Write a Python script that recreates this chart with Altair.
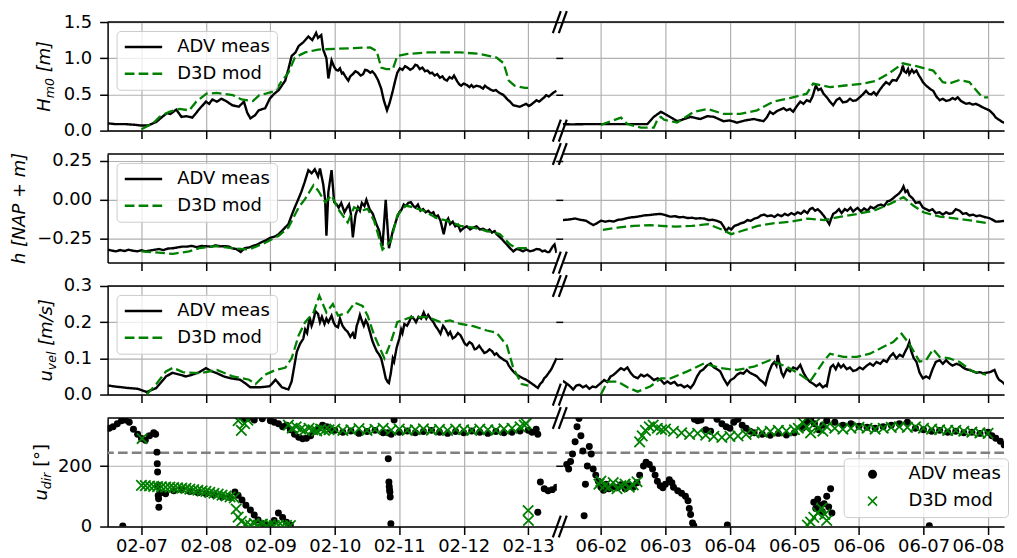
import altair as alt
import pandas as pd
from datetime import datetime, timedelta

FONT = "DejaVu Sans"
SERIES = ["ADV meas", "D3D mod"]
COLORS = ["#000000", "#008000"]
DASHES = [[1, 0], [9.7, 4.2]]
XPATH = ("M-0.88,-1.12L1.12,0.88L0.88,1.12L-1.12,-0.88Z "
         "M-1.12,0.88L0.88,-1.12L1.12,-0.88L-0.88,1.12Z")
SHAPES = ["circle", XPATH]

feb_tick_days = [7, 8, 9, 10, 11, 12, 13]
jun_tick_days = [2, 3, 4, 5, 6, 7, 8]
dir_threshold = [244]

# ---------------- data: (day of month, value) ----------------
hm0_adv_feb = [(6.48,0.10),(6.59,0.09),(6.74,0.09),(6.90,0.08),(7.00,0.07),(7.10,0.07),(7.23,0.12),(7.31,0.18),(7.39,0.24),(7.45,0.23),(7.54,0.29),(7.62,0.19),(7.70,0.20),(7.79,0.18),(7.90,0.30),(8.00,0.40),(8.05,0.37),(8.10,0.43),(8.17,0.40),(8.24,0.44),(8.31,0.41),(8.41,0.35),(8.51,0.33),(8.59,0.40),(8.64,0.25),(8.69,0.17),(8.76,0.21),(8.82,0.28),(8.92,0.31),(8.99,0.44),(9.05,0.50),(9.13,0.56),(9.23,0.69),(9.28,0.85),(9.33,1.03),(9.39,1.08),(9.44,1.17),(9.51,1.22),(9.59,1.30),(9.65,1.25),(9.71,1.35),(9.74,1.28),(9.79,1.32),(9.82,1.12),(9.87,1.00),(9.90,0.72),(9.95,0.97),
  (9.99,0.88),(10.02,0.84),(10.05,0.83),(10.08,0.86),(10.11,0.79),(10.13,0.80),(10.17,0.74),(10.21,0.69),(10.24,0.75),(10.28,0.78),(10.32,0.82),(10.36,0.80),(10.40,0.76),(10.44,0.78),(10.47,0.84),(10.51,0.83),(10.55,0.80),(10.58,0.82),(10.62,0.78),(10.67,0.70),(10.72,0.58),(10.76,0.42),(10.81,0.28),(10.85,0.38),(10.90,0.55),(10.94,0.70),(10.97,0.80),(11.01,0.86),(11.05,0.84),(11.09,0.89),(11.13,0.87),(11.17,0.84),(11.21,0.86),(11.25,0.91),(11.28,0.90),(11.32,0.85),(11.36,0.87),(11.40,0.82),(11.44,0.83),(11.48,0.79),(11.51,0.80),(11.55,0.76),(11.59,0.78),(11.63,0.73),(11.67,0.75),(11.70,0.71),(11.74,0.69),(11.78,0.74),(11.82,0.72),(11.85,0.76),(11.90,0.68),(11.93,0.64),(11.96,0.62),(12.00,0.65),(12.05,0.63),(12.09,0.60),(12.12,0.63),(12.15,0.60),(12.20,0.62),(12.25,0.61),(12.30,0.58),(12.33,0.62),(12.36,0.60),(12.41,0.57),(12.46,0.55),(12.50,0.56),(12.54,0.53),(12.58,0.51),(12.62,0.49),(12.65,0.46),(12.68,0.43),(12.72,0.40),(12.77,0.35),(12.82,0.34),(12.87,0.33),(12.92,0.35),(12.97,0.37),(13.01,0.34),(13.05,0.36),(13.09,0.39),(13.13,0.42),(13.17,0.40),(13.21,0.43),(13.25,0.46),(13.28,0.49),(13.32,0.47),(13.36,0.50),(13.40,0.53),(13.44,0.55)]
hm0_d3d_feb = [(7.00,0.02),(7.18,0.10),(7.28,0.19),(7.43,0.26),(7.59,0.30),(7.74,0.28),(7.85,0.40),(8.01,0.51),(8.17,0.52),(8.42,0.49),(8.55,0.43),(8.73,0.41),(8.83,0.49),(8.93,0.51),(9.08,0.55),(9.18,0.69),(9.28,0.80),(9.38,1.01),(9.54,1.08),(9.74,1.12),(10.00,1.13),(10.30,1.14),(10.55,1.15),(10.65,1.10),(10.72,0.87),(10.80,0.85),(10.90,0.85),(10.97,1.03),(11.13,1.06),(11.44,1.08),(11.95,1.08),(12.25,1.06),(12.51,1.01),(12.62,0.93),(12.70,0.69),(12.79,0.62),(12.95,0.59),(13.00,0.59)]
hm0_adv_jun = [(1.41,0.09),(1.54,0.086),(1.80,0.09),(2.10,0.09),(2.41,0.09),(2.72,0.09),(2.82,0.19),(2.93,0.26),(3.03,0.21),(3.11,0.17),(3.18,0.13),(3.29,0.16),(3.39,0.19),(3.54,0.16),(3.65,0.20),(3.75,0.19),(3.90,0.13),(4.00,0.14),(4.11,0.11),(4.23,0.14),(4.37,0.16),
  (4.52,0.13),(4.57,0.18),(4.62,0.26),(4.67,0.23),(4.73,0.27),(4.78,0.29),(4.83,0.31),(4.88,0.28),(4.93,0.30),(4.98,0.26),(5.03,0.33),(5.09,0.40),(5.14,0.37),(5.19,0.42),(5.24,0.40),(5.28,0.47),(5.33,0.62),(5.37,0.56),(5.41,0.58),(5.45,0.51),(5.51,0.45),(5.55,0.40),(5.60,0.35),(5.65,0.42),(5.70,0.45),(5.75,0.39),(5.81,0.40),(5.86,0.44),(5.91,0.41),(5.96,0.42),(6.01,0.46),(6.06,0.50),(6.11,0.55),(6.15,0.51),(6.19,0.50),(6.23,0.53),(6.27,0.49),(6.32,0.56),(6.37,0.62),(6.42,0.67),(6.47,0.64),(6.52,0.70),(6.58,0.69),(6.62,0.75),(6.65,0.80),(6.68,0.90),(6.70,0.82),(6.73,0.80),(6.76,0.85),(6.78,0.78),(6.82,0.84),(6.85,0.80),(6.89,0.83),(6.93,0.76),(6.96,0.72),(6.99,0.67),(7.03,0.63),(7.07,0.60),(7.11,0.57),(7.15,0.55),(7.20,0.47),(7.25,0.42),(7.30,0.44),(7.35,0.41),(7.40,0.42),(7.45,0.45),(7.49,0.43),(7.53,0.46),(7.58,0.41),(7.62,0.39),(7.66,0.37),(7.71,0.38),(7.76,0.36),(7.81,0.37),(7.86,0.35),(7.92,0.32),(7.97,0.30),(8.02,0.28),(8.08,0.23),(8.12,0.18),(8.17,0.15),(8.22,0.12),(8.28,0.10),(8.38,0.09)]
hm0_d3d_jun = [(2.00,0.08),(2.31,0.18),(2.41,0.09),(2.62,0.04),(2.82,0.04),(2.88,0.16),(2.93,0.19),(2.98,0.15),(3.18,0.11),(3.44,0.26),(3.65,0.30),(3.90,0.23),(4.16,0.23),(4.42,0.28),(4.67,0.40),(4.93,0.45),(5.19,0.51),(5.29,0.65),(5.55,0.60),(5.75,0.62),(6.07,0.65),(6.27,0.69),(6.48,0.80),(6.68,0.93),(6.89,0.89),(7.15,0.83),(7.30,0.67),(7.40,0.65),(7.56,0.70),(7.71,0.67),(7.91,0.46),(8.00,0.46)]

h_adv_feb = [(6.48,-0.32),(6.54,-0.325),(6.60,-0.33),(6.67,-0.322),(6.74,-0.328),(6.80,-0.32),(6.87,-0.326),(6.94,-0.33),(7.00,-0.323),(7.07,-0.33),(7.13,-0.325),(7.20,-0.32),(7.27,-0.315),(7.34,-0.322),(7.41,-0.312),(7.49,-0.31),(7.56,-0.305),(7.63,-0.30),(7.70,-0.30),(7.78,-0.295),(7.85,-0.303),(7.93,-0.296),(8.00,-0.297),(8.08,-0.30),(8.15,-0.292),(8.23,-0.298),(8.30,-0.297),(8.36,-0.30),(8.40,-0.31),(8.47,-0.315),(8.54,-0.334),(8.60,-0.31),(8.67,-0.305),(8.73,-0.295),(8.80,-0.286),(8.87,-0.27),(8.93,-0.26),(9.00,-0.243),(9.07,-0.235),(9.13,-0.22),(9.20,-0.19),(9.28,-0.156),(9.33,-0.10),(9.38,-0.048),(9.43,0.0),(9.48,0.05),(9.53,0.11),(9.59,0.19),(9.64,0.17),(9.69,0.195),(9.74,0.15),(9.77,0.20),(9.82,0.10),(9.85,0.0),(9.87,-0.23),(9.90,0.05),(9.95,0.19),(9.99,-0.015),(10.03,-0.03),(10.06,-0.05),(10.10,-0.02),(10.15,-0.08),(10.19,-0.05),(10.22,-0.03),(10.25,-0.09),(10.28,-0.24),(10.32,-0.10),(10.36,-0.048),(10.39,-0.07),(10.42,-0.02),(10.46,-0.04),(10.49,0.0),(10.54,-0.06),(10.59,-0.09),(10.64,-0.15),(10.69,-0.20),(10.74,-0.297),(10.79,0.0),(10.84,-0.31),(10.90,-0.20),(10.97,-0.11),(11.00,-0.08),(11.04,-0.06),(11.07,-0.03),(11.10,-0.04),(11.14,-0.02),(11.18,-0.015),(11.22,-0.04),(11.25,-0.05),(11.29,-0.03),(11.33,-0.07),(11.37,-0.06),(11.41,-0.08),(11.45,-0.07),(11.49,-0.09),(11.53,-0.08),(11.56,-0.11),(11.60,-0.10),(11.64,-0.134),(11.69,-0.22),(11.73,-0.14),(11.76,-0.12),(11.79,-0.156),(11.83,-0.14),(11.87,-0.17),(11.91,-0.16),(11.95,-0.20),(12.00,-0.18),(12.05,-0.17),(12.10,-0.19),(12.15,-0.178),(12.20,-0.17),(12.25,-0.19),(12.30,-0.185),(12.36,-0.20),(12.40,-0.19),(12.44,-0.21),(12.48,-0.20),(12.51,-0.22),(12.55,-0.235),(12.59,-0.25),(12.63,-0.27),(12.67,-0.286),(12.72,-0.31),(12.77,-0.33),(12.82,-0.315),(12.87,-0.32),(12.92,-0.33),(12.97,-0.318),(13.03,-0.33),(13.08,-0.325),(13.13,-0.315),(13.18,-0.318),(13.22,-0.33),(13.26,-0.325),(13.30,-0.335),(13.33,-0.334),(13.38,-0.30),(13.41,-0.286),(13.44,-0.34)]
h_d3d_feb = [(7.00,-0.33),(7.49,-0.346),(7.74,-0.33),(7.90,-0.31),(8.15,-0.297),(8.41,-0.31),(8.67,-0.318),(8.92,-0.275),(9.13,-0.23),(9.28,-0.178),(9.44,-0.048),(9.54,0.006),(9.67,0.093),(9.74,0.06),(9.85,-0.015),(9.95,0.028),(10.05,-0.058),(10.20,-0.145),(10.30,-0.048),(10.41,-0.07),(10.51,-0.058),(10.61,-0.134),(10.74,-0.318),(10.87,-0.264),(10.97,-0.10),(11.10,-0.037),(11.23,-0.05),(11.38,-0.07),(11.59,-0.12),(11.74,-0.134),(11.95,-0.167),(12.15,-0.178),(12.36,-0.20),(12.56,-0.22),(12.72,-0.286),(12.82,-0.31),(13.00,-0.31)]
h_adv_jun = [(1.41,-0.13),(1.53,-0.125),(1.60,-0.12),(1.68,-0.128),(1.77,-0.134),(1.83,-0.15),(1.88,-0.162),(1.94,-0.15),(2.00,-0.134),(2.07,-0.14),(2.13,-0.135),(2.20,-0.139),(2.27,-0.128),(2.34,-0.125),(2.41,-0.117),(2.48,-0.112),(2.54,-0.11),(2.61,-0.105),(2.67,-0.10),(2.74,-0.098),(2.80,-0.095),(2.87,-0.092),(2.93,-0.09),(3.01,-0.10),(3.08,-0.108),(3.15,-0.105),(3.21,-0.112),(3.28,-0.11),(3.34,-0.117),(3.41,-0.115),(3.47,-0.12),(3.54,-0.118),(3.60,-0.12),(3.67,-0.13),(3.73,-0.128),(3.80,-0.135),(3.86,-0.145),(3.90,-0.17),(3.94,-0.20),(3.98,-0.18),(4.02,-0.19),(4.07,-0.167),(4.12,-0.16),(4.17,-0.15),(4.22,-0.145),(4.27,-0.13),(4.32,-0.135),(4.38,-0.12),(4.43,-0.115),(4.48,-0.10),(4.53,-0.095),(4.58,-0.105),(4.64,-0.10),(4.69,-0.11),(4.74,-0.095),(4.80,-0.105),(4.85,-0.09),(4.90,-0.10),(4.95,-0.085),(5.00,-0.095),(5.05,-0.08),(5.10,-0.09),(5.15,-0.07),(5.20,-0.085),(5.24,-0.06),(5.28,-0.052),(5.32,-0.07),(5.36,-0.06),(5.41,-0.08),(5.45,-0.10),(5.50,-0.13),(5.54,-0.156),(5.57,-0.12),(5.60,-0.09),(5.64,-0.08),(5.69,-0.06),(5.73,-0.085),(5.78,-0.06),(5.82,-0.07),(5.87,-0.05),(5.91,-0.075),(5.95,-0.06),(5.98,-0.052),(6.03,-0.075),(6.08,-0.055),(6.13,-0.07),(6.18,-0.045),(6.23,-0.055),(6.29,-0.037),(6.34,-0.03),(6.39,-0.04),(6.44,-0.01),(6.48,-0.005),(6.53,0.01),(6.58,0.028),(6.62,0.04),(6.66,0.06),(6.69,0.086),(6.72,0.05),(6.75,0.06),(6.78,0.028),(6.83,0.01),(6.88,-0.02),(6.94,-0.015),(6.99,-0.05),(7.04,-0.06),(7.09,-0.07),(7.14,-0.06),(7.19,-0.085),(7.25,-0.08),(7.30,-0.095),(7.35,-0.08),(7.40,-0.09),(7.45,-0.085),(7.50,-0.06),(7.56,-0.07),(7.61,-0.09),(7.66,-0.085),(7.71,-0.10),(7.77,-0.095),(7.82,-0.105),(7.87,-0.10),(7.94,-0.11),(8.02,-0.117),(8.08,-0.13),(8.12,-0.14),(8.17,-0.139),(8.25,-0.135),(8.38,-0.134)]
h_d3d_jun = [(2.03,-0.193),(2.26,-0.178),(2.51,-0.167),(2.77,-0.162),(2.93,-0.167),(3.15,-0.172),(3.41,-0.167),(3.66,-0.156),(3.87,-0.19),(4.02,-0.22),(4.18,-0.20),(4.43,-0.167),(4.69,-0.15),(4.95,-0.139),(5.21,-0.12),(5.46,-0.13),(5.72,-0.108),(5.98,-0.09),(6.23,-0.07),(6.48,-0.026),(6.69,0.017),(6.84,-0.037),(7.00,-0.08),(7.25,-0.108),(7.51,-0.12),(7.76,-0.134),(8.00,-0.15)]

u_adv_feb = [(6.48,0.025),(6.60,0.022),(6.80,0.018),(6.94,0.016),(7.08,0.007),(7.23,0.018),(7.38,0.05),(7.48,0.06),(7.59,0.055),(7.69,0.05),(7.79,0.055),(7.90,0.062),(8.00,0.073),(8.08,0.065),(8.17,0.059),(8.28,0.05),(8.38,0.045),(8.53,0.041),(8.62,0.03),(8.69,0.02),(8.84,0.02),(8.99,0.023),(9.08,0.041),(9.18,0.02),(9.28,0.014),(9.33,0.036),
  (9.41,0.118),(9.46,0.14),(9.51,0.154),(9.54,0.18),(9.57,0.17),(9.61,0.214),(9.64,0.19),(9.66,0.20),(9.70,0.23),(9.74,0.223),(9.77,0.20),(9.80,0.215),(9.84,0.195),(9.87,0.21),(9.90,0.20),(9.95,0.218),(9.98,0.20),(10.01,0.19),(10.05,0.186),(10.08,0.21),(10.12,0.19),(10.16,0.18),(10.20,0.173),(10.24,0.16),(10.28,0.17),(10.31,0.154),(10.34,0.19),(10.36,0.20),(10.39,0.22),(10.41,0.209),(10.45,0.19),(10.48,0.205),(10.51,0.195),(10.55,0.17),(10.58,0.15),(10.61,0.136),(10.65,0.12),(10.69,0.11),(10.72,0.10),(10.76,0.07),(10.79,0.045),(10.82,0.035),(10.84,0.032),(10.87,0.06),(10.90,0.10),(10.92,0.091),(10.96,0.13),(11.00,0.154),(11.03,0.18),(11.05,0.17),(11.08,0.195),(11.12,0.19),(11.15,0.20),(11.19,0.215),(11.23,0.209),(11.26,0.20),(11.30,0.215),(11.34,0.21),(11.38,0.227),(11.42,0.21),(11.45,0.22),(11.49,0.209),(11.53,0.20),(11.56,0.19),(11.60,0.18),(11.64,0.168),(11.68,0.19),(11.72,0.18),(11.76,0.165),(11.79,0.173),(11.83,0.155),(11.87,0.16),(11.91,0.17),(11.95,0.164),(11.99,0.15),(12.02,0.14),(12.05,0.136),(12.09,0.145),(12.13,0.14),(12.17,0.125),(12.20,0.127),(12.24,0.135),(12.28,0.125),(12.32,0.115),(12.36,0.118),(12.40,0.125),(12.44,0.12),(12.48,0.11),(12.51,0.114),(12.55,0.105),(12.59,0.10),(12.63,0.095),(12.67,0.091),(12.70,0.08),(12.74,0.07),(12.78,0.062),(12.82,0.055),(12.87,0.05),(12.92,0.045),(12.97,0.041),(13.02,0.035),(13.06,0.03),(13.10,0.025),(13.15,0.018),(13.19,0.03),(13.22,0.035),(13.25,0.045),(13.28,0.05),(13.32,0.06),(13.36,0.07),(13.40,0.085),(13.44,0.10)]
u_d3d_feb = [(7.08,0.0),(7.23,0.029),(7.38,0.064),(7.49,0.074),(7.64,0.062),(7.90,0.059),(8.17,0.068),(8.42,0.05),(8.67,0.041),(8.77,0.029),(8.92,0.055),(9.08,0.068),(9.23,0.074),(9.33,0.10),(9.44,0.164),(9.54,0.20),(9.67,0.227),(9.76,0.273),(9.87,0.227),(9.97,0.25),(10.05,0.218),(10.20,0.227),(10.31,0.254),(10.43,0.245),(10.51,0.218),(10.61,0.164),(10.77,0.10),(10.87,0.145),(10.97,0.20),(11.18,0.214),(11.44,0.214),(11.64,0.20),(11.79,0.205),(11.95,0.195),(12.15,0.189),(12.36,0.177),(12.51,0.171),(12.67,0.136),(12.77,0.073),(12.90,0.029),(13.00,0.025)]
u_adv_jun = [(1.41,0.038),(1.51,0.025),(1.57,0.014),(1.62,0.025),(1.67,0.027),(1.72,0.02),(1.77,0.025),(1.82,0.016),(1.87,0.022),(1.92,0.02),(2.00,0.032),(2.05,0.04),(2.10,0.035),(2.15,0.05),(2.20,0.055),(2.26,0.065),(2.31,0.073),(2.36,0.068),(2.41,0.075),(2.46,0.06),(2.51,0.05),(2.57,0.045),(2.62,0.055),(2.67,0.05),(2.72,0.055),(2.77,0.048),(2.82,0.04),(2.88,0.045),(2.93,0.04),(2.98,0.03),(3.03,0.036),(3.08,0.03),(3.14,0.035),(3.19,0.025),(3.24,0.027),(3.29,0.02),(3.34,0.025),(3.39,0.018),(3.44,0.03),(3.49,0.05),(3.54,0.064),(3.59,0.07),(3.64,0.08),(3.70,0.086),(3.75,0.075),(3.80,0.07),(3.85,0.064),(3.90,0.045),(3.96,0.027),(4.01,0.04),(4.06,0.045),(4.11,0.055),(4.16,0.06),(4.21,0.058),(4.26,0.068),(4.31,0.06),(4.37,0.055),(4.42,0.05),(4.47,0.04),(4.51,0.035),(4.55,0.027),(4.60,0.06),(4.65,0.082),(4.69,0.09),(4.72,0.08),(4.74,0.109),(4.77,0.085),(4.80,0.06),(4.83,0.05),(4.88,0.07),(4.93,0.064),(4.98,0.075),(5.04,0.07),(5.09,0.082),(5.14,0.06),(5.19,0.045),(5.24,0.035),(5.29,0.03),(5.34,0.023),(5.39,0.03),(5.44,0.02),(5.48,0.025),(5.50,0.023),(5.53,0.05),(5.56,0.075),(5.60,0.082),(5.64,0.07),(5.68,0.085),(5.72,0.075),(5.76,0.082),(5.81,0.07),(5.86,0.075),(5.91,0.065),(5.96,0.068),(6.01,0.075),(6.06,0.07),(6.12,0.08),(6.17,0.086),(6.22,0.08),(6.27,0.09),(6.33,0.085),(6.38,0.095),(6.43,0.09),(6.48,0.105),(6.53,0.114),(6.58,0.10),(6.63,0.11),(6.68,0.105),(6.72,0.12),(6.75,0.13),(6.78,0.145),(6.81,0.12),(6.85,0.10),(6.89,0.091),(6.94,0.06),(6.99,0.045),(7.04,0.05),(7.09,0.045),(7.14,0.07),(7.19,0.09),(7.25,0.095),(7.30,0.085),(7.35,0.095),(7.40,0.086),(7.45,0.08),(7.51,0.085),(7.56,0.082),(7.61,0.075),(7.66,0.07),(7.71,0.068),(7.76,0.065),(7.82,0.06),(7.87,0.062),(7.92,0.059),(7.97,0.06),(8.03,0.062),(8.10,0.068),(8.14,0.05),(8.17,0.041),(8.22,0.035),(8.28,0.025),(8.38,0.018)]
u_d3d_jun = [(2.00,0.0),(2.10,0.036),(2.26,0.036),(2.41,0.02),(2.57,0.008),(2.77,0.023),(2.93,0.045),(3.08,0.045),(3.34,0.064),(3.60,0.086),(3.85,0.073),(4.11,0.068),(4.37,0.077),(4.62,0.095),(4.88,0.077),(5.09,0.055),(5.24,0.036),(5.45,0.091),(5.55,0.113),(5.76,0.104),(5.96,0.104),(6.17,0.113),(6.38,0.132),(6.53,0.145),(6.66,0.168),(6.78,0.14),(6.94,0.091),(7.04,0.095),(7.15,0.125),(7.25,0.104),(7.40,0.10),(7.56,0.09),(7.76,0.064),(7.97,0.055)]

dir_adv_feb = [(6.50,325),(6.56,330),(6.625,340),(6.69,350),(6.75,352),(6.81,345),(6.875,322),(6.94,305),(7.0,291),(7.06,285),(7.125,300),(7.19,310),(7.22,305),
  (7.24,246),(7.245,208),(7.25,180),(7.255,136),(7.26,103),(7.265,92),(7.27,64),(6.71,2),
  (7.3,112),(7.375,108),(7.5,118),(7.625,122),(7.75,116),(7.875,112),(8.0,108),(8.125,104),(8.25,98),(8.375,96),
  (8.45,114),(8.5,103),(8.56,88),(8.62,70),(8.69,55),(8.75,38),(8.81,22),(8.875,10),(8.94,4),(9.0,2),(9.06,20),(9.125,45),(9.19,30),(9.25,14),(9.31,5),
  (8.6,355),(8.65,358),(8.75,352),(8.875,356),(9.0,350),(9.06,345),(9.125,340),(9.19,330),(9.25,335),(9.31,320),(9.375,305),(9.44,295),(9.5,290),(9.56,292),(9.625,300),(9.69,315),(9.75,325),(9.81,335),(9.875,330),
  (9.94,320),(10.0,318),(10.125,312),(10.25,316),(10.375,308),(10.5,314),(10.625,318),(10.75,310),(10.875,305),(11.0,312),(11.125,316),(11.25,310),(11.375,314),(11.5,318),(11.625,312),(11.75,308),(11.875,314),(12.0,310),(12.125,316),(12.25,312),(12.375,308),(12.5,314),(12.625,310),(12.75,312),(12.875,316),(13.0,318),(13.06,312),(13.125,322),(13.15,305),
  (10.82,310),(10.83,224),(10.84,147),(10.845,132),(10.85,121),(10.855,114),(10.86,98),(10.87,9),(10.92,352),
  (13.15,47),(13.19,147),(13.25,125),(13.31,118),(13.375,122),(13.44,130)]
dir_d3d_feb = [(7.0,136),(7.01,291),(7.06,135),(7.125,134),(7.19,133),(7.25,132),(7.31,131),(7.375,130),(7.44,130),(7.5,129),(7.56,128),(7.625,127),(7.69,126),(7.75,124),(7.81,122),(7.875,120),(7.94,118),(8.0,116),(8.06,113),(8.125,110),(8.19,107),(8.25,104),(8.31,101),(8.375,98),(8.44,95),
  (8.47,58),(8.5,31),(8.55,17),(8.62,8),(8.69,5),(8.75,10),(8.81,4),(8.875,8),(8.94,2),(9.0,6),(9.06,3),(9.125,5),(9.19,2),(9.25,4),(9.31,3),
  (8.5,350),(8.55,318),(8.6,340),(8.65,352),
  (9.28,335),(9.34,325),(9.4,330),(9.47,322),(9.53,318),(9.6,325),(9.66,320),(9.72,316),(9.78,322),(9.84,318),(9.91,320),
  (10.0,322),(10.125,318),(10.25,320),(10.375,324),(10.5,318),(10.625,321),(10.75,325),(10.875,319),(11.0,322),(11.125,318),(11.25,320),(11.375,323),(11.5,319),(11.625,321),(11.75,318),(11.875,322),(12.0,320),(12.125,318),(12.25,322),(12.375,320),(12.5,319),(12.625,323),(12.75,325),(12.875,330),(12.94,335),(12.97,340),
  (13.0,53),(13.005,20)]
dir_adv_jun = [(1.47,205),(1.50,190),(1.53,215),(1.56,240),(1.60,280),(1.63,330),(1.66,357),(1.69,300),(1.72,250),(1.74,36),(1.76,140),(1.79,200),(1.82,265),(1.85,240),(1.88,190),(1.92,170),(1.96,150),(2.0,130),(2.04,120),(2.08,140),
  (2.125,125),(2.19,132),(2.25,128),(2.31,138),(2.375,125),(2.44,135),(2.5,130),(2.56,145),
  (2.6,170),(2.66,200),(2.70,213),(2.75,205),(2.80,190),(2.84,170),(2.875,150),(2.92,135),(2.96,128),(3.0,140),(3.06,155),(3.1,145),(3.125,130),(3.19,118),(3.25,110),(3.31,100),(3.35,85),(3.37,60),(3.39,40),(3.42,12),(3.44,3),
  (3.96,5),
  (3.45,355),(3.5,350),(3.55,352),(3.625,320),(3.7,315),(3.8,355),(3.875,340),(3.94,330),(4.0,325),(4.06,345),(4.125,355),(4.19,335),(4.25,325),(4.31,315),(4.375,310),(4.5,305),(4.625,302),(4.75,308),(4.875,303),(5.0,310),(5.125,325),(5.19,345),(5.25,355),(5.31,340),(5.375,320),(5.44,335),(5.5,350),(5.625,345),(5.75,335),(5.875,340),(6.0,332),(6.125,328),(6.25,325),(6.375,330),(6.5,335),(6.625,340),(6.75,345),(6.875,325),(7.0,320),(7.125,315),(7.25,318),(7.375,312),(7.5,315),(7.625,310),(7.75,312),(7.875,308),(8.0,312),(8.06,300),(8.12,292),(8.19,282),(8.25,270),(8.31,258),(8.36,242),
  (5.3,80),(5.33,60),(5.36,90),(5.40,70),(5.43,50),(5.46,75),(5.50,100),(5.53,65),(5.56,125),(5.58,45),
  (7.09,3)]
dir_d3d_jun = [(1.97,140),(2.0,150),(2.06,135),(2.125,130),(2.19,145),(2.25,125),(2.31,135),(2.375,140),(2.44,130),(2.5,138),(2.56,148),
  (2.6,280),(2.64,300),(2.69,318),(2.75,330),(2.81,335),(2.875,325),(2.94,320),(3.0,322),(3.125,315),(3.25,310),(3.375,305),(3.5,308),(3.625,302),(3.75,298),(3.875,295),(4.0,298),(4.125,300),(4.25,305),(4.375,310),(4.5,312),(4.625,315),(4.75,318),(4.875,316),(5.0,320),(5.06,325),(5.125,345),(5.19,330),(5.25,310),(5.31,340),(5.375,325),(5.44,315),(5.5,330),(5.625,325),(5.75,322),(5.875,325),(6.0,328),(6.125,325),(6.25,322),(6.375,325),(6.5,328),(6.625,330),(6.75,328),(6.875,330),(7.0,325),(7.125,322),(7.25,320),(7.375,318),(7.5,318),(7.625,315),(7.75,312),(7.875,310),(8.0,308),
  (5.20,5),(5.25,15),(5.30,30),(5.36,45),(5.42,60),(5.47,40),(5.50,20)]

# ---------------- helpers ----------------
LW, RW, H = 451, 443, 109
ONE = pd.DataFrame({"k": [0]})


def iso(month, d):
    return (datetime(2021, month, 1) + timedelta(days=d - 1)).strftime("%Y-%m-%dT%H:%M:%S")


def frame(month, adv, d3d):
    rows = [{"t": iso(month, d), "v": v, "series": SERIES[0]} for d, v in adv]
    rows += [{"t": iso(month, d), "v": v, "series": SERIES[1]} for d, v in d3d]
    return pd.DataFrame(rows)


def xenc(month, labels):
    if month == 2:
        dom = [alt.DateTime(year=2021, month=2, date=6, hours=11, minutes=23),
               alt.DateTime(year=2021, month=2, date=13, hours=10, minutes=41)]
        ticks = [alt.DateTime(year=2021, month=2, date=d) for d in feb_tick_days]
        flush = dict(labelFlush=False)
    else:
        dom = [alt.DateTime(year=2021, month=6, date=1, hours=9, minutes=49),
               alt.DateTime(year=2021, month=6, date=8, hours=5, minutes=57)]
        ticks = [alt.DateTime(year=2021, month=6, date=d) for d in jun_tick_days]
        flush = dict(labelFlush=20, labelFlushOffset=16)
    return alt.X("t:T", scale=alt.Scale(domain=dom, nice=False),
                 axis=alt.Axis(values=ticks, format="%m-%d", labels=labels, title=None,
                               grid=True, tickSize=8, labelPadding=3,
                               labelOverlap=False, **flush))


def yenc(cfg, side):
    sc = alt.Scale(domain=cfg["ydom"], nice=False, zero=False)
    if side == "L":
        ax = alt.Axis(values=cfg["yvals"], format=cfg["fmt"], title=None, grid=True,
                      tickSize=8, labelPadding=8)
    else:
        ax = alt.Axis(values=cfg["yvals"], labels=False, domain=False, title=None,
                      grid=True, tickSize=7)
    return alt.Y("v:Q", scale=sc, axis=ax)


def box_legend(x, y, **kw):
    return alt.Legend(title=None, orient="none", legendX=x, legendY=y,
                      labelFontSize=18, labelFont=FONT, labelColor="black",
                      padding=7, rowPadding=9,
                      fillColor="rgba(255,255,255,0.8)", strokeColor="#cccccc",
                      cornerRadius=4, **kw)


LINE_LEGEND = box_legend(9, 9, symbolType="M-2.5,0L2.5,0", symbolSize=225,
                         symbolStrokeWidth=2.5, symbolOffset=11, labelOffset=25)
PT_LEGEND = box_legend(282, 40.5, symbolSize=81, symbolOffset=13, labelOffset=27,
                       symbolStrokeWidth=0)


def decorations(side, W):
    spine = alt.Chart(ONE).mark_rule(color="black", strokeWidth=1.5).encode(
        x=alt.value(0), x2=alt.value(W), y=alt.value(0))
    xe = W if side == "L" else 0
    s1 = alt.Chart(ONE).mark_rule(color="black", strokeWidth=2.2).encode(
        x=alt.value(xe - 4), x2=alt.value(xe + 4), y=alt.value(11), y2=alt.value(-11))
    s2 = alt.Chart(ONE).mark_rule(color="black", strokeWidth=2.2).encode(
        x=alt.value(xe - 4), x2=alt.value(xe + 4), y=alt.value(H + 11), y2=alt.value(H - 11))
    return [spine, s1, s2]


def title_layers(pieces, x0, y0):
    out = []
    y = y0
    for text, size, style, dx, adv in pieces:
        out.append(alt.Chart(ONE).mark_text(
            text=text, font=FONT, fontSize=size, fontStyle=style, angle=270,
            align="left", baseline="alphabetic", color="black").encode(
            x=alt.value(x0 + dx), y=alt.value(y)))
        y -= adv
    return out


def line_panel(df, month, side, cfg, labels):
    W = LW if side == "L" else RW
    leg = LINE_LEGEND if side == "L" else None
    color = alt.Color("series:N", scale=alt.Scale(domain=SERIES, range=COLORS), legend=leg)
    dash = alt.StrokeDash("series:N", scale=alt.Scale(domain=SERIES, range=DASHES), legend=leg)
    xe, ye = xenc(month, labels), yenc(cfg, side)
    base = alt.Chart(df)
    adv = base.transform_filter(alt.datum.series == SERIES[0]).mark_line(
        strokeWidth=2.4, clip=True).encode(x=xe, y=ye, color=color, strokeDash=dash)
    d3d = base.transform_filter(alt.datum.series == SERIES[1]).mark_line(
        strokeWidth=2.3, clip=True).encode(x=xe, y=ye, color=color, strokeDash=dash)
    layers = [adv, d3d] + decorations(side, W)
    if side == "L":
        layers += title_layers(cfg["title"], cfg["tx"], cfg["ty"])
    return alt.layer(*layers).properties(width=W, height=H)


def point_panel(df, month, side, cfg):
    W = LW if side == "L" else RW
    leg = PT_LEGEND if side == "R" else None
    color = alt.Color("series:N", scale=alt.Scale(domain=SERIES, range=COLORS), legend=leg)
    shape = alt.Shape("series:N", scale=alt.Scale(domain=SERIES, range=SHAPES), legend=leg)
    xe, ye = xenc(month, True), yenc(cfg, side)
    base = alt.Chart(df)
    thr = alt.Chart(pd.DataFrame({"v": dir_threshold})).mark_rule(
        color="#808080", strokeWidth=2.3, strokeDash=[9.7, 4.2]).encode(y=ye)
    adv = base.transform_filter(alt.datum.series == SERIES[0]).mark_point(
        filled=True, size=49, opacity=1, clip=True).encode(x=xe, y=ye, color=color, shape=shape)
    d3d = base.transform_filter(alt.datum.series == SERIES[1]).mark_point(
        filled=True, size=110, opacity=1, clip=True).encode(x=xe, y=ye, color=color, shape=shape)
    layers = [thr, adv, d3d] + decorations(side, W)
    if side == "L":
        layers += title_layers(cfg["title"], cfg["tx"], cfg["ty"])
    return alt.layer(*layers).properties(width=W, height=H)


ROWS = [
    dict(ydom=[0, 1.5], yvals=[0, 0.5, 1.0, 1.5], fmt=".1f",
         title=[("H", 18, "italic", 0, 13.5), ("m0", 12.6, "italic", 4, 26.0),
                ("[m]", 18, "italic", 0, 31.6)], tx=-57.7, ty=90),
    dict(ydom=[-0.402, 0.293], yvals=[-0.25, 0.0, 0.25], fmt=".2f",
         title=[("h [NAP + m]", 18, "italic", 0, 112)], tx=-82.7, ty=110.5),
    dict(ydom=[0, 0.3], yvals=[0, 0.1, 0.2, 0.3], fmt=".1f",
         title=[("u", 18, "italic", 0, 11.4), ("vel", 12.6, "italic", 4, 24.4),
                ("[m/s]", 18, "italic", 0, 47)], tx=-55.7, ty=95.9),
    dict(ydom=[0, 359], yvals=[0, 200], fmt="d",
         title=[("u", 18, "italic", 0, 11.4), ("dir", 12.6, "italic", 4, 22.4),
                ("[°]", 18, "normal", 0, 23)], tx=-60.7, ty=82.9),
]

RES = dict(color="independent", strokeDash="independent", shape="independent")

panels = []
data_pairs = [
    (hm0_adv_feb, hm0_d3d_feb, hm0_adv_jun, hm0_d3d_jun),
    (h_adv_feb, h_d3d_feb, h_adv_jun, h_d3d_jun),
    (u_adv_feb, u_d3d_feb, u_adv_jun, u_d3d_jun),
]
for cfg, (af, df_, aj, dj) in zip(ROWS[:3], data_pairs):
    panels.append(line_panel(frame(2, af, df_), 2, "L", cfg, False))
    panels.append(line_panel(frame(6, aj, dj), 6, "R", cfg, False))

panels.append(point_panel(frame(2, dir_adv_feb, dir_d3d_feb), 2, "L", ROWS[3]))
panels.append(point_panel(frame(6, dir_adv_jun, dir_d3d_jun), 6, "R", ROWS[3]))

chart = alt.concat(*panels, columns=2, spacing={"row": 23.5, "column": 6},
                   bounds="flush", align="each").resolve_scale(**RES).properties(
    padding={"left": 3, "top": 0, "right": 0, "bottom": 2}
).configure(font=FONT).configure_view(stroke=None).configure_axis(
    domainColor="black", domainWidth=1.5, tickColor="black", tickWidth=1.5,
    gridColor="#b0b0b0", gridWidth=1.2, labelFont=FONT, labelFontSize=18,
    labelColor="black")

chart.save("out.html", embed_options={"renderer": "svg", "actions": False})
